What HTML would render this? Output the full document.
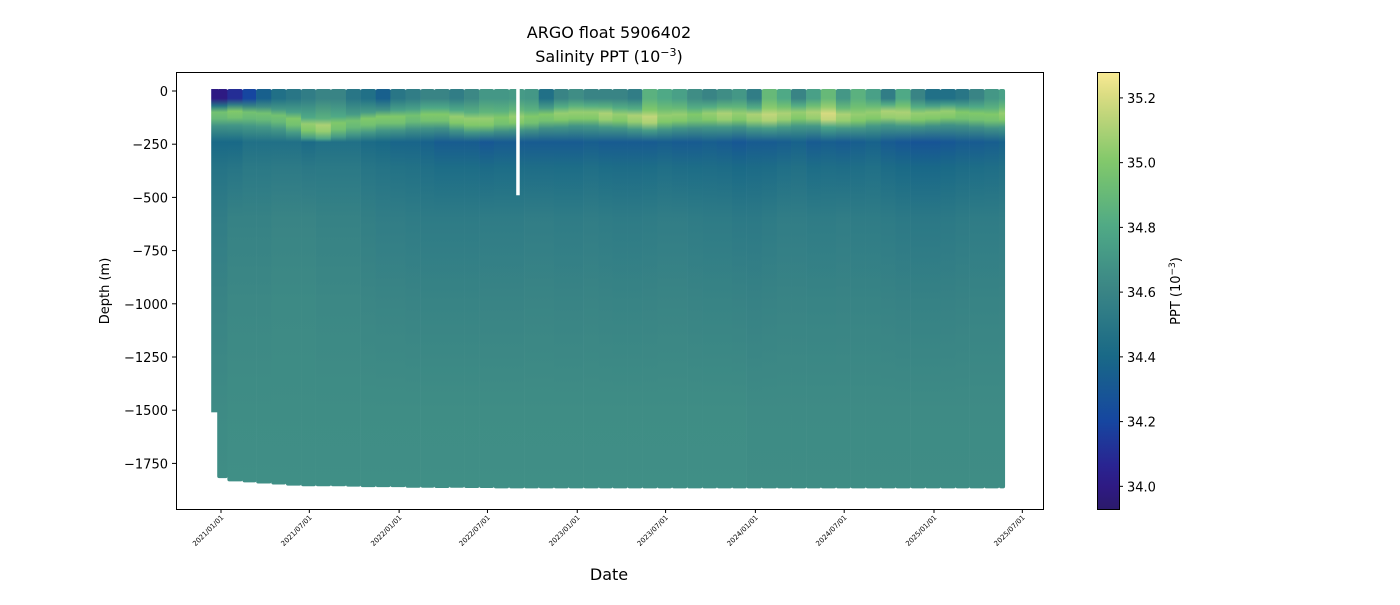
<!DOCTYPE html>
<html><head><meta charset="utf-8"><style>
body{margin:0;background:#fff;font-family:"Liberation Sans","DejaVu Sans",sans-serif}
svg text{font-family:"DejaVu Sans","Liberation Sans",sans-serif}
</style></head><body>
<svg id="c" width="1400" height="600" viewBox="0 0 1400 600">
<defs id="defs"></defs>
<rect width="1400" height="600" fill="#fff"/>
<text x="609" y="38" text-anchor="middle" font-size="16">ARGO float 5906402</text>
<text x="609" y="62" text-anchor="middle" font-size="16">Salinity PPT (10<tspan dy="-6" font-size="11">−3</tspan><tspan dy="6">)</tspan></text>
<g id="plot"></g>
<rect x="176.5" y="72.5" width="867" height="437" fill="none" stroke="#000" stroke-width="1"/>
<g id="axes"></g>
<text x="0" y="0" transform="translate(109,291) rotate(-90)" text-anchor="middle" font-size="13">Depth (m)</text>
<text x="609" y="580" text-anchor="middle" font-size="16">Date</text>
<rect x="1097" y="72" width="22" height="437" fill="url(#cbg)"/>
<rect x="1097.5" y="72.5" width="22" height="437" fill="none" stroke="#000"/>
<g id="cbaxis"></g>
<text x="0" y="0" transform="translate(1180,291) rotate(-90)" text-anchor="middle" font-size="13">PPT (10<tspan dy="-5" font-size="9">−3</tspan><tspan dy="5">)</tspan></text>
</svg>
<script>
const surf=[34.0,34.1,34.2,34.35,34.45,34.5,34.55,34.6,34.6,34.5,34.45,34.35,34.5,34.55,34.6,34.6,34.55,34.62,34.7,34.7,34.72,34.7,34.45,34.6,34.65,34.6,34.6,34.6,34.55,34.85,34.8,34.75,34.65,34.6,34.65,34.7,34.55,34.9,34.8,34.6,34.75,34.9,34.7,34.85,34.75,34.55,34.8,34.6,34.45,34.45,34.5,34.6,34.7,34.75];
const bandDepth=[-110,-105,-110,-115,-125,-140,-165,-170,-160,-150,-140,-130,-130,-125,-120,-120,-130,-140,-140,-135,-130,-130,-120,-115,-110,-110,-115,-120,-125,-130,-125,-120,-120,-115,-115,-115,-120,-120,-115,-110,-110,-115,-120,-120,-110,-105,-110,-115,-110,-105,-110,-115,-120,-115];
const bandMax=[34.95,35.0,34.95,34.95,34.95,35.0,35.05,35.1,35.0,34.95,35.0,35.0,35.0,34.95,35.0,35.0,35.05,35.05,35.05,35.0,35.05,35.0,35.0,35.05,35.05,35.05,35.1,35.05,35.1,35.15,35.05,35.05,35.0,35.05,35.1,35.05,35.1,35.15,35.1,35.05,35.1,35.2,35.1,35.05,35.05,35.1,35.1,35.05,35.05,35.05,35.0,35.0,35.0,35.05];
const minVal=[34.4,34.4,34.45,34.45,34.45,34.45,34.42,34.45,34.45,34.45,34.42,34.4,34.38,34.38,34.36,34.33,34.33,34.33,34.3,34.32,34.32,34.32,34.32,34.32,34.32,34.34,34.32,34.32,34.32,34.32,34.34,34.32,34.32,34.34,34.32,34.3,34.32,34.32,34.34,34.36,34.32,34.34,34.32,34.34,34.36,34.32,34.3,34.28,34.28,34.3,34.32,34.32,34.34,34.36];
const midVal=[34.55,34.58,34.58,34.58,34.6,34.6,34.6,34.58,34.58,34.58,34.56,34.55,34.55,34.54,34.53,34.53,34.53,34.53,34.54,34.54,34.54,34.55,34.55,34.54,34.54,34.55,34.54,34.53,34.53,34.54,34.55,34.55,34.54,34.53,34.53,34.52,34.52,34.53,34.55,34.55,34.54,34.54,34.55,34.54,34.54,34.53,34.52,34.51,34.51,34.52,34.53,34.54,34.54,34.55];
const deepVal=[34.65,34.66,34.66,34.66,34.66,34.66,34.66,34.66,34.66,34.66,34.66,34.66,34.66,34.66,34.66,34.66,34.66,34.66,34.66,34.66,34.66,34.66,34.66,34.66,34.66,34.66,34.66,34.66,34.66,34.66,34.66,34.66,34.66,34.66,34.66,34.66,34.65,34.65,34.65,34.65,34.65,34.65,34.65,34.65,34.65,34.65,34.65,34.65,34.65,34.65,34.65,34.65,34.65,34.65];
const bottom=[-1810,-1825,-1830,-1835,-1840,-1845,-1848,-1848,-1848,-1850,-1852,-1852,-1852,-1855,-1855,-1856,-1855,-1856,-1856,-1858,-1858,-1858,-1858,-1858,-1858,-1858,-1858,-1858,-1858,-1858,-1858,-1858,-1858,-1858,-1858,-1858,-1858,-1858,-1858,-1858,-1858,-1858,-1858,-1858,-1858,-1858,-1858,-1858,-1858,-1858,-1858,-1858,-1858,-1858];
const yTicks=[0,-250,-500,-750,-1000,-1250,-1500,-1750];
const xTickLabels=["2021/01/01","2021/07/01","2022/01/01","2022/07/01","2023/01/01","2023/07/01","2024/01/01","2024/07/01","2025/01/01","2025/07/01"];
const cbTicks=[34.0,34.2,34.4,34.6,34.8,35.0,35.2];
const gapDate="2022-09-01", gapDepth=-490;
const firstProfileDate="2020-12-14", firstProfileDepth=-1510;
const endDate="2025-05-26";

const NS="http://www.w3.org/2000/svg";
const DAY=86400000, T0=Date.UTC(2021,0,1), PXD=713/1461;
const xOf=t=>221+(t-T0)/DAY*PXD;
const yOf=d=>91-d*0.2128;
const vMin=33.93,vMax=35.28;
const cmapStops=[[0,[43,26,107]],[0.07,[47,26,140]],[0.2,[22,70,160]],[0.35,[25,105,135]],[0.5,[58,133,133]],[0.64,[78,168,135]],[0.79,[126,200,106]],[0.94,[214,218,128]],[1,[249,234,148]]];
function cmap(v){let f=Math.max(0,Math.min(1,(v-vMin)/(vMax-vMin)));
 for(let i=1;i<cmapStops.length;i++){if(f<=cmapStops[i][0]){const a=cmapStops[i-1],b=cmapStops[i];const t=(f-a[0])/(b[0]-a[0]);
 const c=a[1].map((x,k)=>Math.round(x+(b[1][k]-x)*t));return `rgb(${c[0]},${c[1]},${c[2]})`;}}return "rgb(249,234,148)";}
const defs=document.getElementById('defs'),plot=document.getElementById('plot'),axes=document.getElementById('axes'),cbaxis=document.getElementById('cbaxis');
function mk(tag,attrs,parent){const e=document.createElementNS(NS,tag);for(const k in attrs)e.setAttribute(k,attrs[k]);parent.appendChild(e);return e;}
const eEnd=xOf(Date.parse(endDate));
function profileStops(m,bot){return [[0,surf[m]],[-35,surf[m]],[bandDepth[m]+40,(surf[m]+bandMax[m])/2],[bandDepth[m]+10,bandMax[m]],[bandDepth[m]-20,bandMax[m]-0.05],[bandDepth[m]-55,(bandMax[m]+minVal[m])/2],[-240,minVal[m]],[-360,(minVal[m]+midVal[m])/2],[-600,midVal[m]],[-1000,(midVal[m]+deepVal[m])/2],[-1500,deepVal[m]-0.01],[bot,deepVal[m]]];}
for(let m=0;m<surf.length;m++){
 const t0=Date.UTC(2020,11+m,14),t1=Date.UTC(2020,12+m,14);
 const x0=Math.max(xOf(t0)+(m===0?5:0),0),x1=Math.min(xOf(t1),eEnd);if(x1<=x0)continue;
 const g=mk('linearGradient',{id:'g'+m,gradientUnits:'userSpaceOnUse',x1:0,x2:0,y1:yOf(0),y2:yOf(bottom[m])},defs);
 profileStops(m,bottom[m]).forEach(p=>{mk('stop',{offset:Math.min(1,p[0]/bottom[m]).toFixed(4),'stop-color':cmap(p[1])},g);});
 const r=mk('rect',{x:x0,y:yOf(0)-2,width:x1-x0+0.3,height:yOf(bottom[m])-yOf(0)+4,rx:2,fill:'url(#g'+m+')'},plot);
 
 
}
{const x=xOf(Date.parse(firstProfileDate));
 const r=mk('rect',{x:x-1,y:yOf(0)-2,width:7,height:yOf(firstProfileDepth)-yOf(0)+2,fill:'url(#g0)'},plot);
 
 }
{const x=xOf(Date.parse(gapDate));const r=mk('rect',{x:x-1.5,y:yOf(0)-3,width:3.5,height:yOf(gapDepth)-yOf(0)+3,fill:'#fff'},plot);
 
 }
yTicks.forEach(v=>{const y=yOf(v);mk('line',{x1:172,x2:176,y1:y,y2:y,stroke:'#000'},axes);
 const t=mk('text',{x:168,y:y+5,'text-anchor':'end','font-size':13},axes);t.textContent=v===0?'0':'−'+Math.abs(v);
 
 });
xTickLabels.forEach(s=>{const p=s.split('/');const x=xOf(Date.UTC(+p[0],+p[1]-1,+p[2]));
 mk('line',{x1:x,x2:x,y1:509,y2:513,stroke:'#000'},axes);
 const t=mk('text',{x:0,y:0,transform:`translate(${x+3},${518}) rotate(-45)`,'text-anchor':'end','font-size':7},axes);t.textContent=s;
 
 });
const cg=mk('linearGradient',{id:'cbg',x1:0,x2:0,y1:1,y2:0},defs);
for(let i=0;i<=20;i++){mk('stop',{offset:i/20,'stop-color':cmap(vMin+(vMax-vMin)*i/20)},cg);}
cbTicks.forEach(v=>{const y=509-(v-vMin)/(vMax-vMin)*437;mk('line',{x1:1119,x2:1123,y1:y,y2:y,stroke:'#000'},cbaxis);
 const t=mk('text',{x:1127,y:y+5,'font-size':13},cbaxis);t.textContent=v.toFixed(1);
 
 });
</script>
</body></html>
